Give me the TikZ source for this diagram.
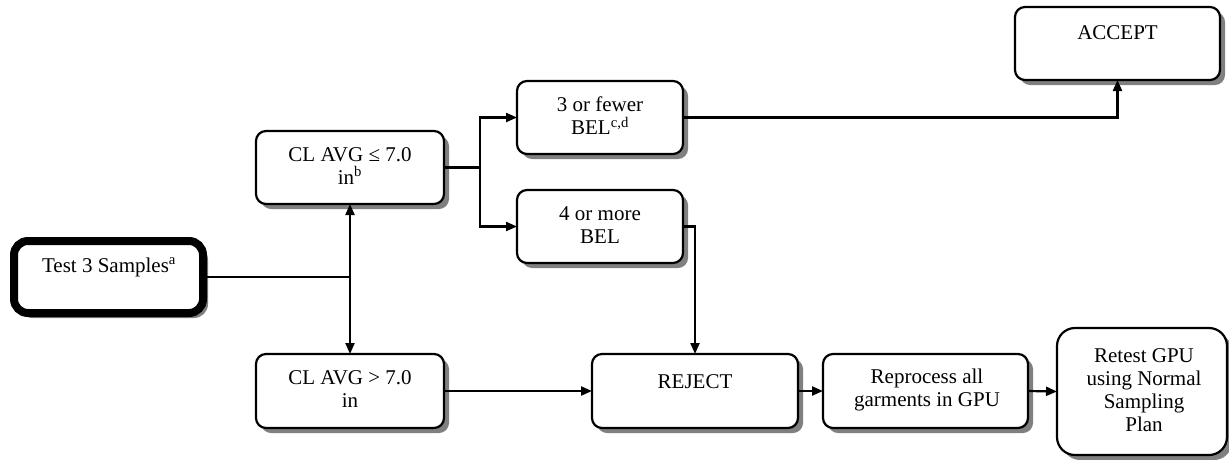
\documentclass[tikz,border=0pt]{standalone}
\usepackage{fontspec}
\setmainfont{Liberation Serif}
\usetikzlibrary{arrows.meta,shadows}
\begin{document}
\begin{tikzpicture}[x=1pt,y=-1pt,
  box/.style={draw=black,line width=2.2pt,fill=white,rounded corners=10pt,inner sep=0pt,outer sep=0pt,
    drop shadow={shadow xshift=5pt,shadow yshift=-5pt,fill=black!50,opacity=1}},
  lbl/.style={font=\fontsize{21}{23}\selectfont,align=center,inner sep=0pt},
  conn/.style={line width=2.2pt},
  arr/.style={conn,-{Triangle[length=11pt,width=9pt]}},
  darr/.style={conn,{Triangle[length=11pt,width=9pt]}-{Triangle[length=11pt,width=9pt]}}]
\useasboundingbox (0,0) rectangle (1229,459);
% boxes
\node[box,line width=8pt,rounded corners=14pt,minimum width=189pt,minimum height=72pt] (test) at (108.5,277) {};
\node[box,minimum width=188pt,minimum height=73pt] (le) at (350,167.5) {};
\node[box,minimum width=188pt,minimum height=74pt] (gt) at (350,391) {};
\node[box,minimum width=166pt,minimum height=73pt] (few) at (600,117.5) {};
\node[box,minimum width=166pt,minimum height=73pt] (more) at (600,226.5) {};
\node[box,minimum width=205pt,minimum height=73pt] (accept) at (1117.5,43.5) {};
\node[box,minimum width=206pt,minimum height=74pt] (reject) at (695,391) {};
\node[box,minimum width=205pt,minimum height=74pt] (repro) at (925.5,391) {};
\node[box,rounded corners=18pt,minimum width=170pt,minimum height=127pt] (retest) at (1142,391.5) {};
% texts
\node[lbl] (ttest) at (109,267) {Test 3 Samples\textsuperscript{a}};
\node[lbl] (tle) at (350,166) {CL AVG ≤ 7.0\\in\textsuperscript{b}};
\node[lbl] (tgt) at (350,389) {CL AVG > 7.0\\in};
\node[lbl] (tfew) at (600,116) {3 or fewer\\BEL\textsuperscript{c,d}};
\node[lbl] (tmore) at (600,225) {4 or more\\BEL};
\node[lbl] (taccept) at (1117.5,33) {ACCEPT};
\node[lbl] (treject) at (695,382) {REJECT};
\node[lbl] (trepro) at (927,390) {Reprocess all\\garments in GPU};
\node[lbl] (tretest) at (1144,390) {Retest GPU\\using Normal\\Sampling\\Plan};
% connectors
\coordinate (jt) at (350,277);
\coordinate (jl) at (480,167.5);
\draw[conn] (test.east) -- (jt);
\draw[darr] (le.south) -- (gt.north);
\draw[conn] (le.east) -- (jl);
\draw[arr] (jl) |- (few.west);
\draw[arr] (jl) |- (more.west);
\draw[arr] (few.east) -| (accept.south);
\draw[arr] (more.east) -| (reject.north);
\draw[arr] (gt.east) -- (reject.west);
\draw[arr] (reject.east) -- (repro.west);
\draw[arr] (repro.east) -- (retest.west);
\end{tikzpicture}
\end{document}
